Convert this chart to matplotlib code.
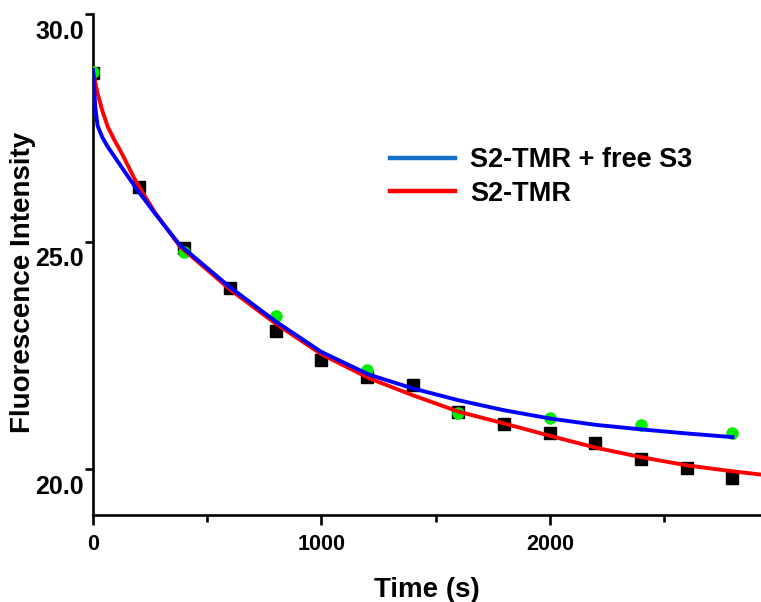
import matplotlib
matplotlib.use("Agg")
import matplotlib.pyplot as plt
import matplotlib.transforms as mtransforms
from matplotlib.lines import Line2D

# measured points (every 200 s for S2-TMR, every 400 s with free S3)
time_s2 = [0, 200, 400, 600, 800, 1000, 1200, 1400, 1600, 1800, 2000, 2200, 2400, 2600, 2800]
s2_tmr = [28.70, 26.20, 24.86, 23.98, 23.05, 22.40, 22.02, 21.85, 21.27, 20.99, 20.81, 20.57, 20.22, 20.04, 19.82]

time_free = [0, 400, 800, 1200, 1600, 2000, 2400, 2800]
s2_free = [28.73, 24.77, 23.38, 22.18, 21.23, 21.12, 20.97, 20.81]

# fitted curves
fit_t_blue = [0, 10, 20, 40, 65, 95, 125, 185, 270, 380, 600, 800, 1000, 1210, 1400, 1600, 1800, 2000, 2200, 2400, 2600, 2800]
fit_blue = [28.77, 27.95, 27.55, 27.30, 27.08, 26.86, 26.64, 26.20, 25.63, 24.93, 24.00, 23.25, 22.58, 22.08, 21.78, 21.52, 21.30, 21.12, 20.98, 20.88, 20.79, 20.71]

fit_t_red = [0, 20, 40, 65, 95, 125, 185, 270, 380, 600, 800, 1000, 1210, 1400, 1600, 1800, 2000, 2200, 2400, 2600, 2800, 2920]
fit_red = [28.73, 28.26, 27.89, 27.52, 27.22, 26.95, 26.35, 25.65, 24.90, 23.95, 23.20, 22.53, 22.00, 21.63, 21.27, 21.01, 20.74, 20.48, 20.27, 20.09, 19.96, 19.89]

legend_labels = ["S2-TMR + free S3", "S2-TMR"]

plt.rcParams["font.family"] = ["Liberation Sans", "DejaVu Sans"]
plt.rcParams["font.weight"] = "bold"

fig = plt.figure(figsize=(7.61, 6.02), dpi=100)
ax = fig.add_axes([93 / 761, 87 / 602, 668 / 761, 501 / 602])

ax.plot(time_s2, s2_tmr, ls="none", marker="s", ms=8, color="black", zorder=2)
ax.plot(time_free, s2_free, ls="none", marker="o", ms=8, color="#00ee00", zorder=3)
ax.plot(fit_t_red, fit_red, color="#ff0000", lw=2.8, zorder=4)
ax.plot(fit_t_blue, fit_blue, color="#0000ff", lw=2.8, zorder=5)

ax.set_xlim(0, 2925)
ax.set_ylim(19, 30)

for side in ["top", "right"]:
    ax.spines[side].set_visible(False)
for side in ["left", "bottom"]:
    ax.spines[side].set_linewidth(1.9)

ax.set_xticks([0, 1000, 2000])
ax.set_xticks([500, 1500, 2500], minor=True)
ax.set_yticks([20, 25, 30])
ax.set_yticklabels(["20.0", "25.0", "30.0"])
ax.tick_params(axis="x", which="major", length=7, width=1.9, labelsize=15.5, pad=6.5)
ax.tick_params(axis="x", which="minor", length=5, width=1.9)
ax.tick_params(axis="y", which="major", length=6, width=1.9, labelsize=18, pad=0.3)

offset = mtransforms.ScaledTranslation(0, -4 / 72, fig.dpi_scale_trans)
for lab in ax.get_yticklabels():
    lab.set_va("top")
    lab.set_transform(lab.get_transform() + offset)

ax.set_xlabel("Time (s)", fontsize=20, fontweight="bold", labelpad=16)
ax.set_ylabel("Fluorescence Intensity", fontsize=20, fontweight="bold")
ax.yaxis.set_label_coords(-0.085, 0.465)

handles = [Line2D([], [], color="#1570c8", lw=3.2),
           Line2D([], [], color="#ff0000", lw=3.2)]
ax.legend(handles, legend_labels, loc="upper left", bbox_to_anchor=(0.4446, 0.734),
          frameon=False, fontsize=19.5, handlelength=2.4, handletextpad=0.55,
          labelspacing=0.28, borderpad=0, borderaxespad=0)

plt.savefig("out.png", dpi=100)
plt.close()
